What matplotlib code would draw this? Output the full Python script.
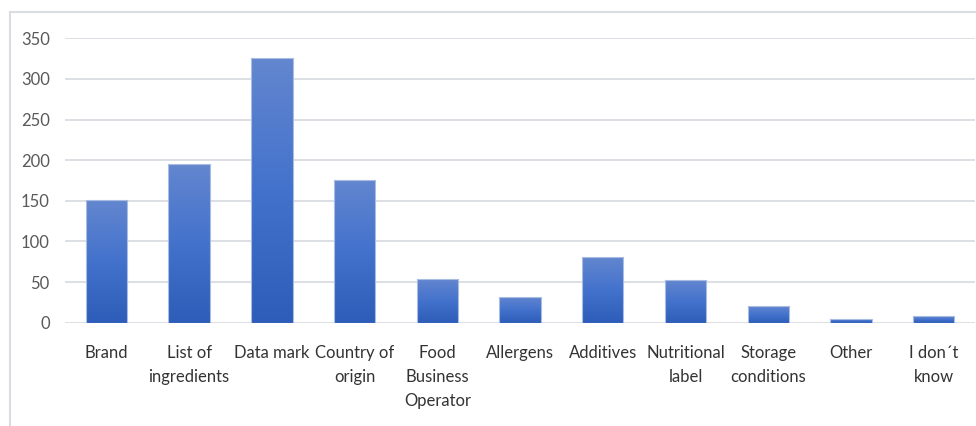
import numpy as np
import matplotlib
matplotlib.use('Agg')
import matplotlib.pyplot as plt
from matplotlib.colors import LinearSegmentedColormap
from matplotlib.lines import Line2D

plt.rc('font', family=['Lato', 'DejaVu Sans'], size=12)

categories = ['Brand', 'List of\ningredients', 'Data mark', 'Country of\norigin',
              'Food\nBusiness\nOperator', 'Allergens', 'Additives', 'Nutritional\nlabel',
              'Storage\nconditions', 'Other', 'I don\u00b4t\nknow']
counts = [151, 195, 326, 176, 54, 32, 81, 52, 20, 5, 8]
yticks = [0, 50, 100, 150, 200, 250, 300, 350]

W, H = 976, 426
fig = plt.figure(figsize=(W / 100, H / 100), dpi=100)
ax = fig.add_axes((65 / W, 1 - 322.7 / H, 910 / W, (322.7 - 38.3) / H))

# excel-style vertical gradient, lighter on top
cmap = LinearSegmentedColormap.from_list('bargrad', ['#2d5db8', '#4372cc', '#6386cf'])
grad = np.linspace(0, 1, 256).reshape(-1, 1)

x = np.arange(len(categories))
bars = ax.bar(x, counts, width=0.5, facecolor='none', edgecolor='#a9bde3',
              linewidth=0.8, zorder=3)
for bar in bars:
    bx, bw, bh = bar.get_x(), bar.get_width(), bar.get_height()
    im = ax.imshow(grad, extent=(bx, bx + bw, 0, bh), origin='lower',
                   aspect='auto', cmap=cmap, zorder=2, interpolation='bilinear')
    im.set_clip_path(bar)

ax.set_xlim(-0.5, len(categories) - 0.5)
ax.set_ylim(0, 350)
ax.set_yticks(yticks)
ax.set_xticks(x)
ax.set_xticklabels(categories, linespacing=1.6)
ax.yaxis.grid(True, color='#dcdfe3', linewidth=1.4)
ax.set_axisbelow(True)
for s in ax.spines.values():
    s.set_visible(False)
ax.tick_params(axis='both', length=0)
ax.tick_params(axis='y', pad=11, labelcolor='#595959', labelsize=12)
ax.tick_params(axis='x', pad=16, labelcolor='#333333', labelsize=12)

# light frame around the chart
fig.add_artist(Line2D([10 / W, 10 / W], [0, 1 - 12 / H], color='#d9dce0', lw=1.5))
fig.add_artist(Line2D([10 / W, 1], [1 - 12 / H, 1 - 12 / H], color='#d9dce0', lw=1.5))

fig.savefig('out.png', dpi=100)
